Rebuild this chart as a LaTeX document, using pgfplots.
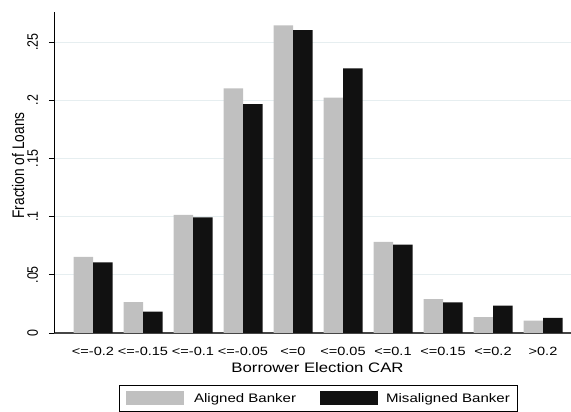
\documentclass[border=0pt]{standalone}
\usepackage{fontspec}
\setmainfont{Liberation Sans}
\usepackage{graphicx}
\usepackage{pgfplots}
\pgfplotsset{compat=1.18}
\definecolor{grayb}{RGB}{192,192,192}
\definecolor{blackb}{RGB}{17,17,17}
\definecolor{gridc}{RGB}{230,238,240}
\newcommand\sq[1]{\scalebox{1}[0.82]{#1}}
\newcommand\sr[1]{\scalebox{0.82}[1]{#1}}
\begin{document}
\begin{tikzpicture}
\useasboundingbox (0,0) rectangle (571bp,412bp);
\begin{axis}[
  at={(54bp,79bp)}, anchor=south west,
  scale only axis, width=517bp, height=321bp,
  xmin=-0.78, xmax=9.56, ymin=0, ymax=0.2758,
  ybar=0pt, bar width=19.5bp,
  axis x line*=bottom, axis y line*=left,
  x axis line style={draw={rgb,255:red,70;green,70;blue,70}, line width=1.1bp},
  y axis line style={draw=black, line width=0.9bp},
  xtick={0,...,9},
  xticklabels={{\sq{<=-0.2}},{\sq{<=-0.15}},{\sq{<=-0.1}},{\sq{<=-0.05}},{\sq{<=0}},{\sq{<=0.05}},{\sq{<=0.1}},{\sq{<=0.15}},{\sq{<=0.2}},{\sq{>0.2}}},
  xtick style={draw=none},
  xticklabel style={font=\fontsize{14.6}{16}\selectfont, anchor=base, yshift=-17bp},
  ytick={0,0.05,0.1,0.15,0.2,0.25},
  yticklabels={{\sr{0}},{\sr{.05}},{\sr{.1}},{\sr{.15}},{\sr{.2}},{\sr{.25}}},
  ytick style={draw=black, line width=0.8bp},
  tick align=outside, major tick length=5bp,
  yticklabel style={font=\fontsize{15.2}{17}\selectfont, shift={(-11bp,0bp)}, rotate=90, anchor=base},
  ymajorgrids, grid style={draw=gridc, line width=0.9bp},
  xlabel={\fontsize{16.8}{18}\selectfont\sq{Borrower Election CAR}},
  xlabel style={at={(axis description cs:0.5097,-0.1215)}, anchor=base},
  ylabel={\fontsize{16.8}{18}\selectfont\sr{Fraction of Loans}},
  ylabel style={at={(axis description cs:-0.0696,0.522)}, anchor=center},
  legend columns=2,
  legend style={at={(axis description cs:0.5106,-0.162)}, anchor=north,
    draw=black, line width=0.7bp, font=\fontsize{15.1}{17}\selectfont,
    inner xsep=7bp, inner ysep=6bp,
    nodes={inner sep=0pt},
    /tikz/column 1/.style={column sep=10bp},
    /tikz/column 2/.style={column sep=24bp},
    /tikz/column 3/.style={column sep=8bp},
    /tikz/column 4/.style={column sep=7bp}},
  legend image code/.code={\path[#1, draw=none] (0bp,-7bp) rectangle (58bp,7bp);},
  legend cell align=left,
]
\addplot[fill=grayb, draw=none] coordinates {
(0,0.0653) (1,0.0266) (2,0.1014) (3,0.2102) (4,0.2643) (5,0.2022) (6,0.0782) (7,0.0290) (8,0.0137) (9,0.0106)};
\addplot[fill=blackb, draw=none] coordinates {
(0,0.0607) (1,0.0183) (2,0.0994) (3,0.1967) (4,0.2603) (5,0.2274) (6,0.0759) (7,0.0264) (8,0.0235) (9,0.0129)};
\legend{\sq{Aligned Banker}, \sq{Misaligned Banker}}
\end{axis}
\end{tikzpicture}
\end{document}
